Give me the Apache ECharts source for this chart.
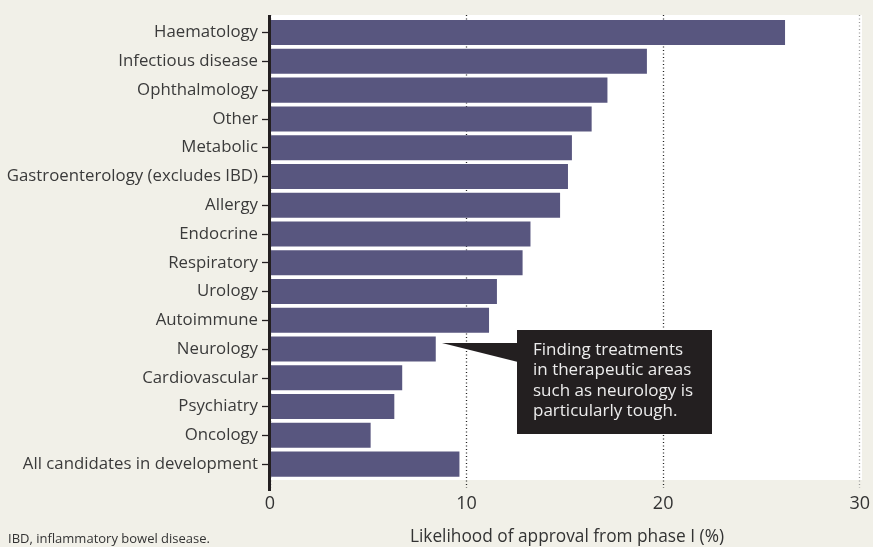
<!DOCTYPE html>
<html><head><meta charset="utf-8">
<script src="https://cdn.jsdelivr.net/npm/echarts@6/dist/echarts.min.js"></script>
<style>html,body{margin:0;padding:0;background:#f1f0e8}#c{width:873px;height:547px}</style>
</head><body><div id="c"></div>
<script>
const categories = ["Haematology","Infectious disease","Ophthalmology","Other","Metabolic","Gastroenterology (excludes IBD)","Allergy","Endocrine","Respiratory","Urology","Autoimmune","Neurology","Cardiovascular","Psychiatry","Oncology","All candidates in development"];
const values = [26.1,19.1,17.1,16.3,15.3,15.1,14.7,13.2,12.8,11.5,11.1,8.4,6.7,6.3,5.1,9.6];
const xMin = 0, xMax = 30, xInterval = 10;
const xName = "Likelihood of approval from phase I (%)";
const note = "Finding treatments\nin therapeutic areas\nsuch as neurology is\nparticularly tough.";
const footnote = "IBD, inflammatory bowel disease.";

const FONT = "Open Sans";
const chart = echarts.init(document.getElementById('c'));
chart.setOption({
  backgroundColor: '#f1f0e8',
  animation: false,
  textStyle: {fontFamily: FONT},
  grid: [
    {left: 270, right: 11, top: 18.2, height: 460.3},
    {left: 270, right: 11, top: 15, height: 473}
  ],
  xAxis: [
    {gridIndex: 0, type: 'value', min: xMin, max: xMax, interval: xInterval, show: false},
    {gridIndex: 1, type: 'value', min: xMin, max: xMax, interval: xInterval,
     axisLine: {show: false}, axisTick: {show: false},
     splitLine: {show: true, lineStyle: {type: [1, 2.5], width: 1.3, color: ['#222', '#222', '#222', '#999']}},
     axisLabel: {fontSize: 18, color: '#333', margin: 7, fontFamily: FONT}}
  ],
  yAxis: [
    {gridIndex: 0, type: 'category', inverse: true, data: categories,
     axisLine: {show: false},
     axisTick: {show: true, alignWithLabel: true, length: 8, lineStyle: {color: '#231f20', width: 1.3}},
     axisLabel: {fontSize: 16.8, color: '#3a3a3a', margin: 12, fontFamily: FONT}},
    {gridIndex: 1, type: 'value', show: false}
  ],
  series: [{
    type: 'bar', xAxisIndex: 0, yAxisIndex: 0, data: values,
    barCategoryGap: '13%', itemStyle: {color: '#58567f'}
  }],
  graphic: [
    {type: 'rect', shape: {x: 270, y: 15, width: 592, height: 465}, style: {fill: '#ffffff'}, z: -10, silent: true},
    {type: 'line', shape: {x1: 269.5, y1: 15, x2: 269.5, y2: 491}, style: {stroke: '#231f20', lineWidth: 3}, z: 10},
    {type: 'polygon', shape: {points: [[442, 343], [518, 343], [518, 362]]}, style: {fill: '#231f20'}, z: 10},
    {type: 'rect', shape: {x: 517, y: 330, width: 195, height: 104}, style: {fill: '#231f20'}, z: 10},
    {type: 'text', x: 533, y: 339.5, z: 11,
     style: {text: note, fill: '#ececec', font: '17px "Open Sans"', lineHeight: 20.6, verticalAlign: 'top'}},
    {type: 'text', x: 567, y: 537, z: 11,
     style: {text: xName, fill: '#333', font: '17.3px "Open Sans"', align: 'center', verticalAlign: 'middle'}},
    {type: 'text', x: 8, y: 539, z: 11,
     style: {text: footnote, fill: '#333', font: '13px "Open Sans"', verticalAlign: 'middle'}}
  ]
});
</script></body></html>
